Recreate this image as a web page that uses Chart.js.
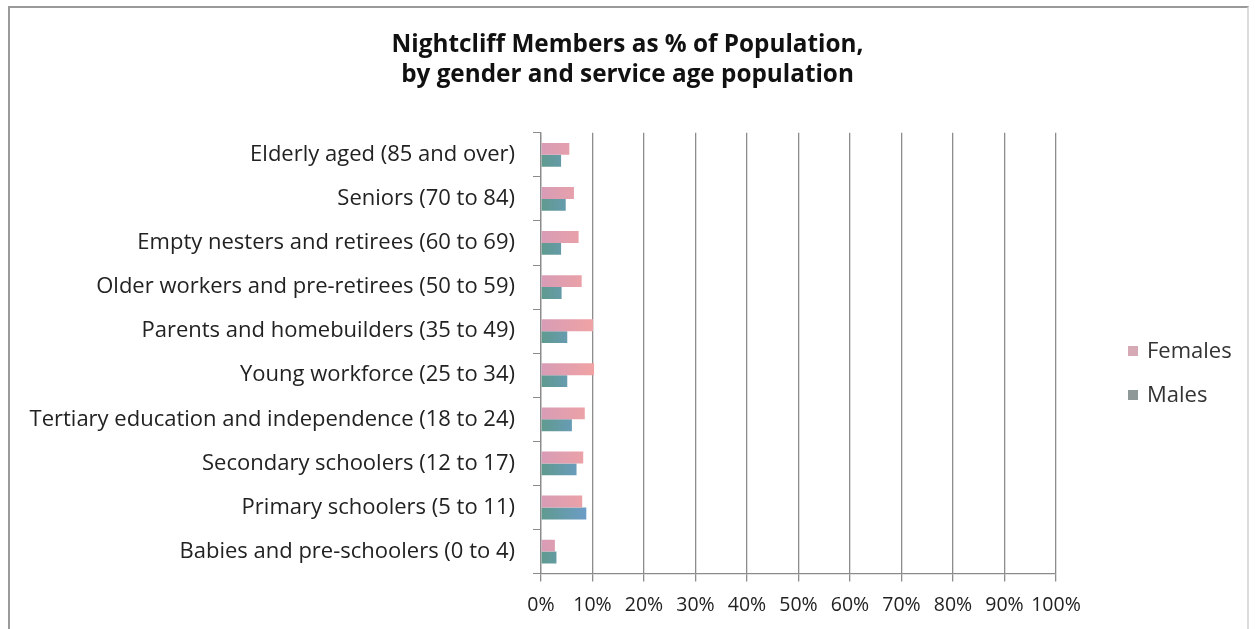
<!DOCTYPE html>
<html>
<head>
<meta charset="utf-8">
<script src="https://cdn.jsdelivr.net/npm/chart.js@4.4.1/dist/chart.umd.min.js"></script>
<style>
  body { margin: 0; background: #fff; font-family: 'Open Sans', 'Noto Sans', sans-serif; }
  /* frame round the chart */
  .frame { position: absolute; left: 8px; top: 6px; width: 1241px; height: 640px; border: 2px solid #9a9a9a; border-right-color: #dcdcdc; box-sizing: border-box; }
  .wrap { position: absolute; left: 0; top: 0; width: 1255px; height: 629px; }
  .legend { position: absolute; left: 1128px; top: 334px; font-size: 22px; color: #333; }
  .legend div { height: 44px; line-height: 30px; white-space: nowrap; }
  .legend span { display: inline-block; width: 10px; height: 10px; margin-right: 9px; vertical-align: 2px; }
</style>
</head>
<body>
<div class="frame"></div>
<div class="wrap"><canvas id="membersChart" width="1255" height="629"></canvas></div>
<div class="legend" id="legend"></div>
<script>
// age groups, top to bottom
const categories = [
  'Elderly aged (85 and over)',
  'Seniors (70 to 84)',
  'Empty nesters and retirees (60 to 69)',
  'Older workers and pre-retirees (50 to 59)',
  'Parents and homebuilders (35 to 49)',
  'Young workforce (25 to 34)',
  'Tertiary education and independence (18 to 24)',
  'Secondary schoolers (12 to 17)',
  'Primary schoolers (5 to 11)',
  'Babies and pre-schoolers (0 to 4)'
];
const females = [0.055, 0.064, 0.073, 0.079, 0.101, 0.103, 0.085, 0.082, 0.080, 0.027];
const males   = [0.039, 0.048, 0.039, 0.040, 0.051, 0.051, 0.060, 0.069, 0.088, 0.030];
const tickValues = [0, 0.1, 0.2, 0.3, 0.4, 0.5, 0.6, 0.7, 0.8, 0.9, 1];
const seriesNames = ['Females', 'Males'];
const swatches = ['#d6aab4', '#8f9a98'];

const FONT = "'Open Sans', 'Noto Sans', sans-serif";

// bars fade from one colour to another along their length
function barFill(c1, c2) {
  return ctx => {
    const area = ctx.chart.chartArea;
    if (!area) return c2;
    const g = ctx.chart.ctx.createLinearGradient(area.left, 0, area.left + 55, 0);
    g.addColorStop(0, c1);
    g.addColorStop(1, c2);
    return g;
  };
}

new Chart(document.getElementById('membersChart'), {
  type: 'bar',
  data: {
    labels: categories,
    datasets: [
      {
        label: seriesNames[0],
        data: females,
        backgroundColor: barFill('#d79cb6', '#f1a3a3'),
        categoryPercentage: 0.54,
        barPercentage: 1.0
      },
      {
        label: seriesNames[1],
        data: males,
        backgroundColor: barFill('#5f9a8e', '#6f9dd3'),
        categoryPercentage: 0.54,
        barPercentage: 1.0
      }
    ]
  },
  options: {
    indexAxis: 'y',
    responsive: false,
    animation: false,
    layout: { padding: { top: 30, left: 0, right: 0, bottom: 0 } },
    scales: {
      x: {
        min: 0,
        max: 1,
        afterBuildTicks: axis => { axis.ticks = tickValues.map(v => ({ value: v })); },
        ticks: {
          callback: v => Math.round(v * 100) + '%',
          font: { family: FONT, size: 19.5 },
          color: '#222',
          padding: 12,
          maxRotation: 0,
          autoSkip: false
        },
        grid: { color: '#8c8c8c', lineWidth: 1.3, tickLength: 8 },
        border: { color: '#8c8c8c', width: 1.3 }
      },
      y: {
        afterFit: axis => { axis.width = 541; },
        ticks: {
          font: { family: FONT, size: 22 },
          color: '#222',
          padding: 18,
          autoSkip: false
        },
        grid: { drawOnChartArea: false, color: '#8c8c8c', tickLength: 8, offset: true },
        border: { color: '#8c8c8c', width: 1.3 }
      },
      // empty column on the right that holds the series key
      keySpace: {
        type: 'category',
        position: 'right',
        afterFit: axis => { axis.width = 199; },
        ticks: { display: false },
        grid: { display: false },
        border: { display: false }
      }
    },
    plugins: {
      title: {
        display: true,
        text: ['Nightcliff Members as % of Population,', 'by gender and service age population'],
        font: { family: FONT, size: 24.3, weight: 'bold', lineHeight: 1.25 },
        color: '#111',
        padding: { top: 0, bottom: 42 }
      },
      legend: { display: false },
      tooltip: { enabled: false }
    }
  }
});

// series key on the right
document.getElementById('legend').innerHTML = seriesNames
  .map((n, i) => `<div><span style="background:${swatches[i]}"></span>${n}</div>`)
  .join('');
</script>
</body>
</html>
